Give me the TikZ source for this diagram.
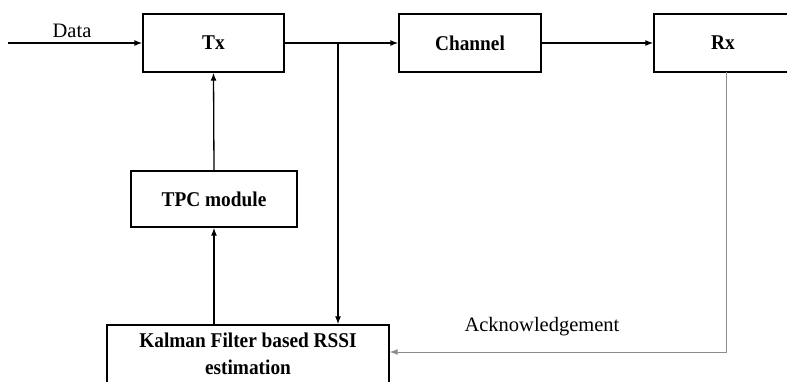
\documentclass[tikz,border=0pt]{standalone}
\usepackage{fontspec}
\setmainfont{Liberation Serif}
\newfontfamily\blkfont[FakeStretch=0.92]{Liberation Serif}
\usetikzlibrary{arrows.meta}
\begin{document}
\begin{tikzpicture}[x=1pt,y=-1pt,
  blk/.style={draw=black,line width=1.4pt,minimum height=58pt,inner sep=0pt,font=\blkfont\fontsize{21}{24}\selectfont\bfseries},
  conn/.style={line width=1.3pt,-{Latex[length=8pt,width=6pt]}},
  fb/.style={draw=black!45,line width=1pt,-{Latex[length=8pt,width=6pt]},},
  lbl/.style={font=\fontsize{20.5}{23}\selectfont,inner sep=0pt}]
\useasboundingbox (0,0) rectangle (787,381);
\clip (0,0) rectangle (787,381);
\node[blk,minimum width=141pt] (tx) at (213.5,43) {Tx};
\node[blk,minimum width=142pt] (ch) at (470,43) {Channel};
\node[blk,minimum width=138pt] (rx) at (723,43) {Rx};
\node[blk,minimum width=166pt,minimum height=56pt] (tpc) at (214,199) {TPC module};
\node[draw=black,line width=1.4pt,minimum width=282pt,minimum height=80pt,inner sep=0pt] (kf) at (248,365) {};
\node[font=\blkfont\fontsize{21}{27}\selectfont\bfseries,align=center,inner sep=0pt] (kft) at (248,354) {Kalman Filter based RSSI\\estimation};
\coordinate (din) at (8,43);
\coordinate (br) at (338,43);
\coordinate (rxb) at (726,72);
\coordinate (fc) at (726,352);
\draw[conn] (din) -- (tx.west);
\node[lbl] (data) at (72,31) {Data};
\draw[conn] (tx.east) -- (ch.west);
\draw[conn] (ch.east) -- (rx.west);
\draw[conn] (br) -- (br |- kf.north);
\draw[conn] (tpc.north) -- (tx.south);
\draw[conn] (tpc.south |- kf.north) -- (tpc.south);
\draw[fb] (rxb) -- (fc) -- (fc -| kf.east);
\node[lbl] (ack) at (542,327) {Acknowledgement};
\end{tikzpicture}
\end{document}
